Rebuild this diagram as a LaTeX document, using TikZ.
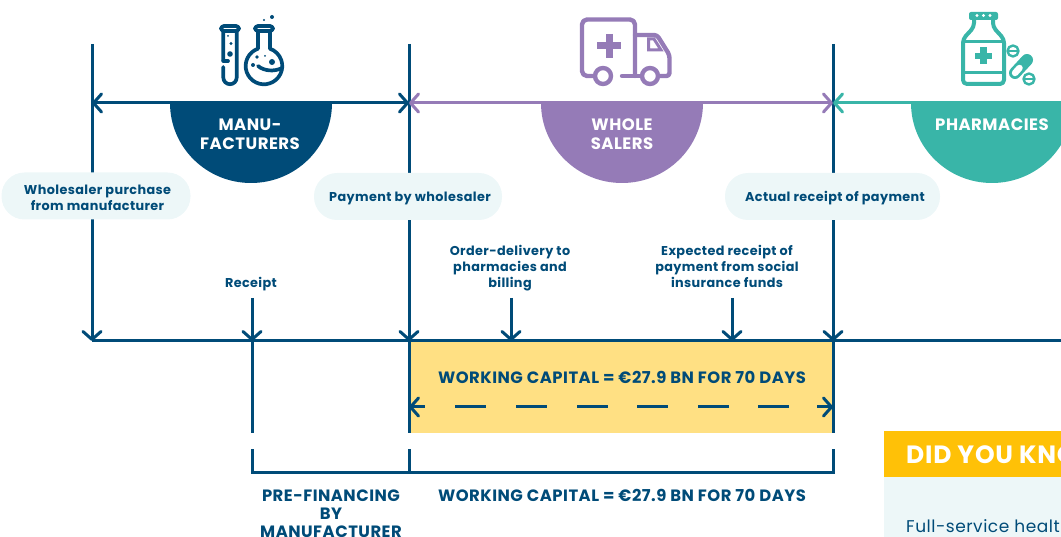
\documentclass[tikz,border=0pt]{standalone}
\usepackage{fontspec}
\usepackage{tikz}
\usetikzlibrary{arrows.meta}
\setmainfont{Poppins}[LetterSpace=3]

\definecolor{navy}{HTML}{004B78}
\definecolor{lilac}{HTML}{957BB7}
\definecolor{teal2}{HTML}{39B5A8}
\definecolor{sand}{HTML}{FFE083}
\definecolor{gold}{HTML}{FFC107}
\definecolor{mist}{HTML}{EDF7F8}

\tikzset{
  tip/.style={>={Straight Barb[length=8pt,width=18pt,line width=3pt,round]}},
  rule/.style={draw=navy,line width=3pt},
  note/.style={text=navy,align=center,font=\bfseries\fontsize{12.8}{16}\selectfont},
  bubble/.style={fill=mist,rounded corners=23pt,minimum height=47pt},
  head/.style={text=white,align=center,font=\bfseries\fontsize{16.5}{19}\selectfont},
  title/.style={text=navy,align=center,font=\bfseries\fontsize{16.4}{18}\selectfont},
  icon/.style={line width=3.7pt,line cap=round,line join=round}
}

\begin{document}
\begin{tikzpicture}[x=1pt,y=-1pt,tip]

  \useasboundingbox (0,0) rectangle (1061,537);
  \clip (0,0) rectangle (1061,537);

  \coordinate (a0) at (92,44);
  \coordinate (b0) at (409,44);
  \coordinate (c0) at (833,44);
  \coordinate (a) at (92,103);
  \coordinate (b) at (409,103);
  \coordinate (c) at (833,103);
  \coordinate (d) at (1061,103);
  \coordinate (a1) at (92,341);
  \coordinate (r1) at (252,341);
  \coordinate (b1) at (409,341);
  \coordinate (c1) at (833,341);
  \coordinate (d1) at (1061,341);
  \coordinate (r0) at (252,298);
  \coordinate (o0) at (511,298);
  \coordinate (o1) at (511,341);
  \coordinate (p0) at (732,298);
  \coordinate (p1) at (732,341);
  \coordinate (r2) at (252,433);
  \coordinate (b2) at (409,433);
  \coordinate (c2) at (833,433);
  \coordinate (b3) at (409,407);
  \coordinate (c3) at (833,407);
  \coordinate (r4) at (252,449);
  \coordinate (r5) at (252,472);
  \coordinate (b4) at (409,449);
  \coordinate (b5) at (409,472);
  \coordinate (c4) at (833,449);
  \coordinate (c5) at (833,472);

  % capital box
  \fill[sand] (b1) rectangle (c2);

  % verticals and time line
  \draw[rule,->] (a0) -- (a1);
  \draw[rule,->] (b0) -- (b1);
  \draw[rule,->] (c0) -- (c1);
  \draw[rule] (b1) -- (b2) (c1) -- (c2);
  \draw[rule] (a1) -- (d1);
  \draw[rule,->] (r0) -- (r1);
  \draw[rule] (r1) -- (r2);
  \draw[rule,->] (o0) -- (o1);
  \draw[rule,->] (p0) -- (p1);

  % top arrows
  \draw[rule,<->] (a) -- (b);
  \draw[rule,draw=lilac,<->] (b) -- (c);
  \draw[rule,draw=teal2,<-] (c) -- (d);

  % half discs
  \fill[navy] (170,103) arc[start angle=180,end angle=0,x radius=81,y radius=80] -- cycle;
  \fill[lilac] (541,103) arc[start angle=180,end angle=0,x radius=81,y radius=80] -- cycle;
  \fill[teal2] (911,103) arc[start angle=180,end angle=0,x radius=81,y radius=80] -- cycle;
  \node[head] (manu) at (250,134) {MANU-\\FACTURERS};
  \node[head] (whole) at (622,134) {WHOLE\\SALERS};
  \node[head] (pharm) at (992,124.5) {PHARMACIES};

  % bubbles
  \node[bubble,minimum width=189pt] (buy) at (96,196) {};
  \node[bubble,minimum width=188pt] (pay) at (408,196.5) {};
  \node[bubble,minimum width=215pt] (act) at (832.5,196.5) {};
  \node[note] (buytext) at (97.5,197.5) {Wholesaler purchase\\from manufacturer};
  \node[note] (paytext) at (410,198.5) {Payment by wholesaler};
  \node[note] (acttext) at (835,198.5) {Actual receipt of payment};

  \node[note] (rec) at (251,284) {Receipt};
  \node[note] (ord) at (510,268) {Order-delivery to\\pharmacies and\\billing};
  \node[note] (exp) at (727,266.5) {Expected receipt of\\payment from social\\insurance funds};

  % capital
  \node[title] (wc) at (622,377.5) {WORKING CAPITAL = €27.9 BN FOR 70 DAYS};
  \draw[rule,dash pattern=on 0pt off 46pt on 31pt off 30pt on 31pt off 30pt on 31pt off 29pt on 31pt off 30pt on 31pt off 29pt on 31pt off 43pt] (b3) -- (c3);
  \draw[rule,<-] (b3) -- ++(16,0);
  \draw[rule,<-] (c3) -- ++(-16,0);

  % brackets
  \draw[rule] (r4) -- (r5) -- (c5) -- (c4) (b4) -- (b5);
  \node[title,anchor=north] (pre) at (331,486.5) {PRE-FINANCING\\BY\\MANUFACTURER};
  \node[title] (wc2) at (622,495.5) {WORKING CAPITAL = €27.9 BN FOR 70 DAYS};

  % did you know
  \fill[mist] (884,477) rectangle (1061,537);
  \fill[gold] (884,431) rectangle (1061,477);
  \node[anchor=west,inner sep=0pt,text=white,font=\bfseries\fontsize{25}{28}\selectfont] (dyk) at (906,455) {DID YOU KNOW};
  \node[anchor=west,inner sep=0pt,text=navy,font=\fontsize{17}{20}\selectfont] (full) at (906,526) {Full-service health};

  % flask icon
  \begin{scope}[icon,draw=navy,fill=navy]
    \draw (223.3,61) -- (223.3,32) (236.7,32) -- (236.7,77.5) arc[start angle=0,end angle=180,radius=6.7] -- (223.3,67);
    \draw (223.3,61) -- (228,61);
    \draw[rounded corners=3pt] (221,26) rectangle (239,31);
    \fill (228,36) circle[radius=1] (231,43.5) circle[radius=1.7] (230,54) circle[radius=2.8];
    \draw[rounded corners=3pt] (255,26) rectangle (273,31);
    \draw (258,31) -- (258,48.7) arc[start angle=-109,end angle=-431,radius=18.3] -- (270,31);
    \draw (258,66) .. controls (264,71) and (274,72) .. (282,68);
    \fill (257,57) circle[radius=1.8] (265,56) circle[radius=1] (272,62) circle[radius=3] (253,65) circle[radius=2];
    \fill (272,17) circle[radius=2] (264,20) circle[radius=1.2];
  \end{scope}

  % truck icon
  \begin{scope}[icon,line width=4.4pt,draw=lilac,fill=lilac]
    \draw[rounded corners=5pt] (594,76) -- (582,76) -- (582,19.5) -- (635,19.5) -- (635,76);
    \draw (622,76) -- (642,76);
    \draw[rounded corners=3pt] (635,35) -- (657,35) -- (669.5,55) -- (669.5,76) -- (659,76);
    \draw[line width=3pt,line join=miter] (648.5,39) -- (654,39) -- (661,50) -- (648.5,50) -- cycle;
    \draw (603,76) circle[radius=8] (650,76) circle[radius=8];
    \draw[line width=7pt,line cap=butt] (597,46) -- (621,46) (609,34) -- (609,58);
  \end{scope}

  % bottle icon
  \begin{scope}[icon,line width=4pt,draw=teal2,fill=teal2]
    \fill[rounded corners=2pt] (969,12) rectangle (998,20);
    \fill[white] (977,15.5) circle[radius=1.6] (983.5,15.5) circle[radius=1.6] (990,15.5) circle[radius=1.6];
    \draw[rounded corners=4pt] (974,20) -- (974,27) -- (963,39) -- (963,84) -- (1004,84) -- (1004,39) -- (993,27) -- (993,20);
    \draw[line width=3pt] (963,42) -- (1004,42) (963,73) -- (1004,73);
    \draw[line width=6.5pt,line cap=butt] (975,56) -- (992,56) (983.5,47.5) -- (983.5,64.5);
    \draw[line width=2.4pt] (1013,51) circle[radius=5.5] (1029,79) circle[radius=5.5];
    \draw[line width=2pt,line cap=butt] (1009,51) -- (1017,51) (1025,79) -- (1033,79);
    \draw[line width=12pt] (1015,73) -- (1027,60);
    \draw[draw=white,line width=6.5pt] (1015,73) -- (1019.5,68);
  \end{scope}

\end{tikzpicture}
\end{document}
